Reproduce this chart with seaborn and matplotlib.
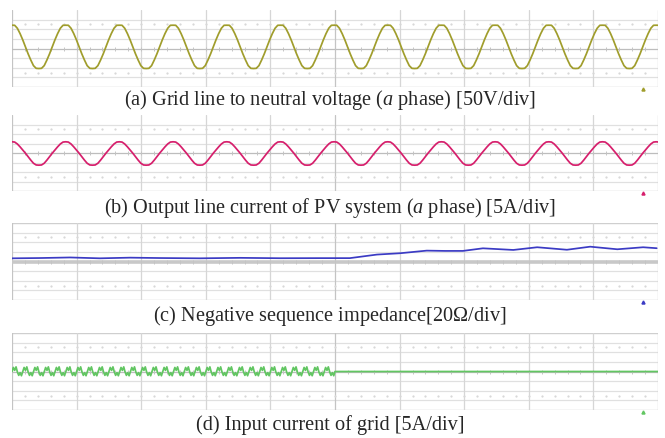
import numpy as np
import pandas as pd
import matplotlib
matplotlib.use("Agg")
import matplotlib.pyplot as plt
import seaborn as sns

# ---------------- data (in scope divisions) ----------------
captions = [
    r"(a) Grid line to neutral voltage ($\mathit{a}$ phase) [50V/div]",
    r"(b) Output line current of PV system ($\mathit{a}$ phase) [5A/div]",
    r"(c) Negative sequence impedance[20$\Omega$/div]",
    r"(d) Input current of grid [5A/div]",
]
trace_colors = ["#a09d2c", "#d61f6c", "#3b3bc4", "#62c662"]

# one cycle of grid voltage (a), 20 samples per period
voltage_cycle = [2.42, 2.41, 2.10, 1.55, 0.90, 0.17, -0.55, -1.20, -1.78, -2.06,
                 -2.08, -2.06, -1.78, -1.20, -0.55, 0.17, 0.90, 1.55, 2.10, 2.41]
# one cycle of PV output current (b)
current_cycle = [1.18, 1.15, 0.95, 0.65, 0.32, -0.02, -0.38, -0.75, -1.08, -1.26,
                 -1.28, -1.26, -1.08, -0.75, -0.38, -0.02, 0.32, 0.65, 0.95, 1.15]
period_div = 0.831
n_cycles = 13

# negative sequence impedance (c)
imp_x = [0.00, 0.43, 0.90, 1.36, 1.83, 2.29, 2.91, 3.53, 4.15, 4.77, 5.23, 5.65,
         6.01, 6.42, 6.70, 6.98, 7.29, 7.76, 8.13, 8.59, 8.95, 9.37, 9.77, 9.98]
imp_y = [0.33, 0.36, 0.42, 0.33, 0.40, 0.36, 0.33, 0.38, 0.34, 0.35, 0.35, 0.72,
         0.86, 1.13, 1.10, 1.10, 1.37, 1.20, 1.48, 1.22, 1.54, 1.27, 1.48, 1.38]

# grid input current (d): ripple motif until PV trips, then zero
ripple_motif = [0.0, 0.42, 0.12, 0.48, -0.05, -0.40, -0.12, -0.44]
ripple_period = 0.1667
ripple_end = 5.0
flat_x = [5.0, 10.0]
flat_y = [0.0, 0.0]

trigger_x = 9.77

# ---------------- build frames ----------------
def periodic(cycle, period, count):
    n = len(cycle)
    idx = np.arange(count * n + 1)
    return pd.DataFrame({"x": idx * period / n,
                         "y": [cycle[i % n] for i in idx]})

df_a = periodic(voltage_cycle, period_div, n_cycles)
df_b = periodic(current_cycle, period_div, n_cycles)
df_c = pd.DataFrame({"x": imp_x, "y": imp_y})
n_rip = int(round(ripple_end / ripple_period))
df_r = periodic(ripple_motif, ripple_period, n_rip)
df_r = df_r[df_r.x <= ripple_end]
df_d = pd.concat([df_r, pd.DataFrame({"x": flat_x, "y": flat_y})], ignore_index=True)
frames = [df_a, df_b, df_c, df_d]

# ---------------- style ----------------
sns.set_style("white")
plt.rcParams["font.family"] = ["Liberation Serif", "DejaVu Serif"]
plt.rcParams["mathtext.fontset"] = "custom"
plt.rcParams["mathtext.rm"] = "Liberation Serif"
plt.rcParams["mathtext.it"] = "Liberation Serif:italic"

W, H = 665, 438
fig = plt.figure(figsize=(W / 100, H / 100), dpi=100)

# panel boxes in pixel coords (left, top, right, bottom)
boxes = [(12, 10, 658, 87), (12, 115, 658, 191), (12, 223, 658, 300), (12, 333, 658, 410)]
caption_y = [100, 208, 316, 425]
top_border = [False, False, True, True]

for i, (l, t, r, b) in enumerate(boxes):
    ax = fig.add_axes([l / W, 1 - b / H, (r - l) / W, (b - t) / H])
    ax.set_xlim(0, 10)
    ax.set_ylim(-4, 4)
    ax.set_xticks([])
    ax.set_yticks([])
    for s in ax.spines.values():
        s.set_visible(False)
    # horizontal division lines
    for yy in range(-3, 4):
        if yy == 0:
            continue
        ax.axhline(yy, color="#e0e0e0", lw=0.9, zorder=1)
    ax.axhline(-4, color="#cfcfcf", lw=1.0, zorder=1)
    if top_border[i]:
        ax.axhline(4, color="#cfcfcf", lw=1.0, zorder=1)
    # vertical division lines
    for xx in range(0, 11):
        c = "#c4c4c4" if xx in (0, 5, 10) else "#d6d6d6"
        ax.axvline(xx, color=c, lw=0.9, zorder=1)
    # centre axis
    ax.axhline(0, color="#c8c8c8" if i == 2 else "#bdbdbd",
               lw=2.6 if i == 2 else 0.9, zorder=1)
    minor = np.arange(0.2, 10, 0.2)
    ax.plot(minor, np.zeros_like(minor), ls="none", marker="|", ms=3,
            mew=0.7, color="#c4c4c4", zorder=1)
    for yy in (2.5, -2.5):
        ax.plot(minor, np.full_like(minor, yy), ls="none", marker="s", ms=0.6,
                color="#d8d8d8", zorder=1)
    # trace
    sns.lineplot(data=frames[i], x="x", y="y", ax=ax, color=trace_colors[i],
                 lw=1.25, sort=False, estimator=None, zorder=3)
    ax.set_xlabel("")
    ax.set_ylabel("")
    # trigger marker
    ax.plot([trigger_x], [-4.25], marker="^", ms=2.2, color=trace_colors[i],
            clip_on=False, zorder=4)
    fig.text(0.496, 1 - caption_y[i] / H, captions[i], ha="center", va="center",
             fontsize=14.6)

fig.savefig("out.png", dpi=100)
